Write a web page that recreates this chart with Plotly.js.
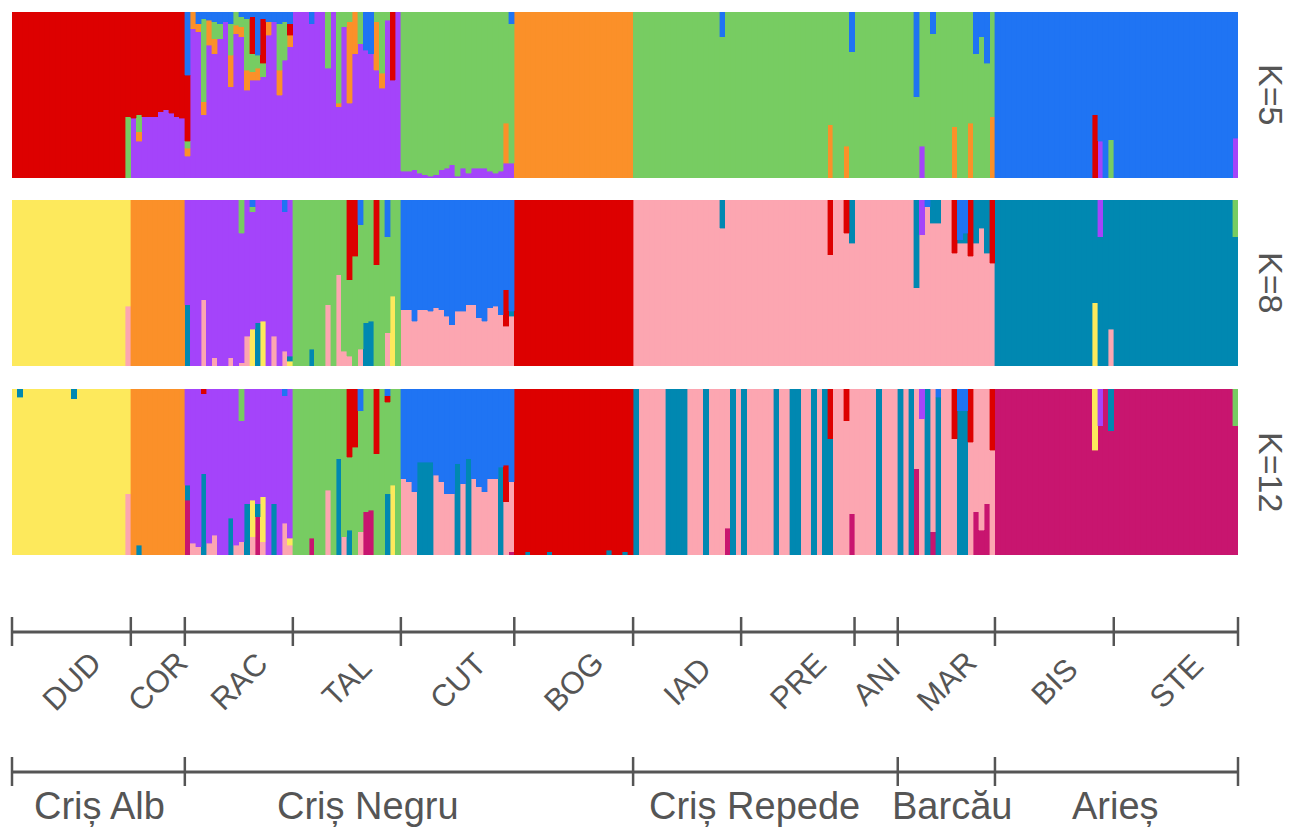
<!DOCTYPE html>
<html><head><meta charset="utf-8">
<script src="https://cdn.plot.ly/plotly-3.0.1.min.js"></script>
<style>html,body{margin:0;padding:0;background:#fff;}#chart{width:1304px;height:831px;}</style>
</head><body><div id="chart"></div>
<script>
// ---------------- DATA ----------------
const populations = ['DUD','COR','RAC','TAL','CUT','BOG','IAD','PRE','ANI','MAR','BIS','STE'];
const popSizes    = [22, 10, 20, 20, 21, 22, 20, 21, 8, 18, 22, 23];
const rivers      = ['Criș Alb','Criș Negru','Criș Repede','Barcău','Arieș'];
const riverPopCounts = [2, 4, 3, 1, 2];
const panelLabels = ['K=5','K=8','K=12'];

// cluster colour keys
const clusterColors = {P:'#a444fa', O:'#fb9029', G:'#77cc62', R:'#dd0000', B:'#1f74f3',
                       Y:'#fde95c', K:'#fca6b1', T:'#0088b1', M:'#c8156f'};
// stacking order (bottom -> top)
const order5  = ['P','O','G','R','B'];
const order8  = ['K','Y','T','O','P','G','R','B'];
const order12 = ['M','K','Y','T','O','P','G','R','B'];

// main cluster of each population
const base5  = ['R','R','P','P','G','O','G','G','G','G','B','B'];
const base8  = ['Y','O','P','G','B','R','K','K','K','K','T','T'];
const base12 = ['Y','O','P','G','B','R','K','K','K','K','M','M'];

// admixed individuals: [individual index, cluster, membership]
const admix5 = [
 [21,'G',.37],
 [22,'P',.36],[23,'P',.22],[23,'O',.06],[23,'G',.10],[24,'P',.37],[25,'P',.37],[26,'P',.37],
 [27,'P',.40],[28,'P',.41],[29,'P',.39],[30,'P',.37],[31,'P',.36],
 [32,'B',.38],[32,'R',.40],[32,'G',.04],[32,'O',.05],
 [33,'O',.10],[34,'B',.07],[34,'O',.05],[35,'B',.04],[35,'G',.50],[35,'O',.08],
 [36,'B',.05],[36,'O',.15],[37,'B',.06],[37,'G',.10],[37,'O',.09],[38,'B',.07],[38,'G',.09],
 [39,'B',.06],[40,'B',.07],[40,'G',.19],[40,'O',.19],[41,'O',.05],[41,'G',.08],
 [42,'B',.03],[42,'G',.06],[42,'O',.06],[43,'B',.04],[43,'G',.31],[43,'O',.12],
 [44,'B',.03],[44,'R',.22],[44,'G',.11],[44,'O',.05],[45,'B',.26],[45,'G',.08],[45,'O',.07],
 [46,'B',.04],[46,'R',.27],[46,'G',.08],[47,'B',.06],[47,'O',.08],[48,'B',.06],
 [49,'B',.07],[49,'G',.28],[49,'O',.15],[50,'B',.06],[50,'G',.23],[51,'B',.07],[51,'R',.07],[51,'O',.07],
 [55,'B',.07],[58,'G',.34],[60,'G',.55],[60,'O',.02],[61,'G',.09],[62,'O',.49],[62,'G',.06],
 [63,'O',.25],[64,'G',.19],[65,'B',.23],[66,'B',.25],[67,'G',.06],[67,'O',.29],[68,'G',.37],[68,'O',.09],
 [69,'G',.05],[70,'R',.41],
 [72,'P',.04],[73,'P',.04],[74,'P',.05],[75,'P',.03],[76,'P',.02],[77,'P',.01],[78,'P',.02],
 [79,'P',.05],[80,'P',.06],[81,'P',.08],[82,'P',.01],[83,'P',.06],[84,'P',.03],[85,'P',.06],
 [86,'P',.06],[87,'P',.06],[88,'P',.04],[89,'P',.03],[90,'P',.04],[91,'O',.24],[91,'P',.09],
 [92,'B',.07],[92,'P',.09],
 [131,'B',.15],
 [151,'O',.32],[154,'O',.19],[155,'B',.24],[167,'B',.51],[168,'P',.19],[170,'B',.13],
 [174,'O',.31],[177,'O',.33],[178,'B',.25],[179,'B',.15],[180,'B',.31],[181,'O',.37],
 [200,'R',.38],[201,'P',.22],[203,'G',.23],[226,'P',.24]
];
const admix8 = [
 [21,'K',.36],
 [32,'T',.37],[35,'K',.40],[37,'K',.05],[40,'K',.05],[42,'G',.20],[42,'K',.02],[43,'K',.18],
 [44,'B',.04],[44,'G',.03],[44,'Y',.22],[45,'T',.26],[46,'Y',.27],[48,'K',.18],[50,'K',.09],[50,'B',.07],
 [51,'T',.03],[51,'Y',.03],
 [55,'T',.10],[58,'K',.37],[60,'K',.55],[61,'K',.09],[62,'R',.48],[62,'K',.06],[63,'R',.34],
 [64,'B',.15],[64,'K',.10],[65,'T',.26],[66,'T',.27],[67,'R',.39],[69,'B',.22],[69,'K',.20],[70,'Y',.42],
 [72,'K',.34],[73,'K',.34],[74,'K',.27],[75,'K',.34],[76,'K',.34],[77,'K',.33],[78,'K',.35],
 [79,'K',.34],[80,'K',.30],[81,'K',.25],[82,'K',.33],[83,'K',.33],[84,'K',.37],[85,'K',.37],
 [86,'K',.29],[87,'K',.27],[88,'K',.35],[89,'K',.36],[90,'K',.31],[91,'R',.22],[91,'K',.24],
 [92,'K',.30],[92,'T',.03],
 [131,'T',.17],
 [151,'R',.33],[154,'R',.20],[155,'T',.26],[167,'T',.53],[168,'P',.21],[169,'B',.04],
 [170,'T',.14],[171,'T',.14],[174,'R',.32],[175,'B',.24],[175,'T',.02],[176,'B',.20],[176,'T',.06],
 [177,'R',.34],[178,'T',.26],[179,'T',.17],[180,'T',.32],[181,'R',.38],
 [200,'Y',.38],[201,'P',.22],[203,'K',.22],[226,'G',.22]
];
const admix12 = [
 [1,'T',.05],[11,'T',.06],[21,'K',.37],
 [23,'T',.06],
 [32,'M',.33],[32,'T',.09],[33,'K',.07],[34,'K',.05],[35,'T',.49],[35,'R',.03],[36,'K',.07],
 [37,'K',.12],[40,'T',.22],[41,'K',.06],[42,'G',.19],[42,'K',.08],[43,'T',.31],[44,'Y',.22],[44,'K',.11],
 [45,'M',.23],[45,'T',.08],[46,'Y',.27],[46,'K',.08],[48,'T',.31],[50,'K',.19],[50,'B',.04],
 [51,'Y',.04],[51,'K',.06],
 [55,'M',.10],[58,'K',.39],[60,'T',.58],[61,'K',.11],[62,'T',.15],[62,'R',.41],[63,'R',.35],
 [64,'K',.14],[64,'B',.13],[65,'M',.26],[66,'M',.27],[67,'R',.39],[69,'T',.37],[69,'R',.04],[69,'B',.04],
 [70,'Y',.42],
 [72,'K',.46],[73,'K',.44],[74,'K',.38],[75,'T',.56],[76,'T',.56],[77,'T',.56],[78,'K',.48],
 [79,'K',.44],[80,'K',.37],[81,'K',.37],[82,'T',.55],[83,'K',.43],[84,'T',.58],[85,'K',.46],
 [86,'K',.41],[87,'K',.38],[88,'K',.46],[89,'K',.46],[90,'T',.53],[91,'R',.22],[91,'K',.32],
 [92,'K',.42],[92,'M',.02],
 [95,'T',.02],[99,'T',.02],[110,'T',.03],[113,'T',.02],
 [115,'T',1],[121,'T',1],[122,'T',1],[123,'T',1],[124,'T',1],[128,'T',1],[132,'M',.16],[133,'T',1],
 [135,'T',1],[141,'T',1],[144,'T',1],[145,'T',1],[148,'T',1],[150,'T',1],[151,'T',.70],[151,'R',.30],
 [154,'R',.19],[155,'M',.25],
 [160,'T',1],
 [164,'T',1],[166,'T',1],[167,'M',.52],[168,'P',.18],[169,'T',1],[170,'M',.14],[171,'T',.95],[171,'B',.05],
 [174,'R',.30],[175,'T',.87],[175,'B',.13],[176,'T',.87],[176,'B',.13],[177,'R',.32],
 [178,'M',.26],[179,'M',.15],[180,'M',.31],[181,'R',.37],
 [200,'Y',.37],[201,'P',.22],[203,'T',.25],[226,'G',.22]
];

// ---------------- BUILD ----------------
const N = popSizes.reduce((a,b)=>a+b,0);
const popOf = [];
popSizes.forEach((n,p)=>{ for(let i=0;i<n;i++) popOf.push(p); });
const idx = Array.from({length:N},(_,i)=>i);

function buildQ(base, admix, order){
  const q = {}; order.forEach(c=>q[c]=new Array(N).fill(0));
  const minor = new Array(N).fill(0);
  admix.forEach(([i,c,v])=>{ q[c][i]+=v; minor[i]+=v; });
  for(let i=0;i<N;i++){ q[base[popOf[i]]][i] += Math.max(0, 1-minor[i]); }
  // empty segments are not drawn at all
  order.forEach(c=>{ q[c] = q[c].map(v => v > 0.0001 ? v : null); });
  return q;
}
const panels = [
  {q:buildQ(base5,admix5,order5),  order:order5,  xa:'x',  ya:'y'},
  {q:buildQ(base8,admix8,order8),  order:order8,  xa:'x2', ya:'y2'},
  {q:buildQ(base12,admix12,order12),order:order12,xa:'x3', ya:'y3'}
];
const traces = [];
panels.forEach(p=>{
  p.order.forEach(c=>{
    traces.push({type:'bar', x:idx, y:p.q[c], xaxis:p.xa, yaxis:p.ya, width:1,
      marker:{color:clusterColors[c], line:{color:clusterColors[c], width:0.4}},
      hoverinfo:'skip', showlegend:false});
  });
});

// ---------------- LAYOUT ----------------
const W=1304, H=831, plotL=12, plotR=1238, plotT=12, plotB=555;
const fy = py => (plotB-py)/(plotB-plotT);
const fx = px => (px-plotL)/(plotR-plotL);
const textColor = '#555555';
const axColor = '#555555';
const font = 'Liberation Sans, Arial, sans-serif';

const xbase = {range:[-0.5,N-0.5], visible:false, fixedrange:true};
const ybase = {range:[0,1], visible:false, fixedrange:true};
const domains = [[fy(178),fy(12)],[fy(366),fy(200)],[fy(555),fy(389)]];

const shapes = [];
const annotations = [];
function axisRow(py, counts){
  shapes.push({type:'line', xref:'paper', yref:'paper', x0:0, x1:1, y0:fy(py), y1:fy(py), line:{color:axColor, width:3}});
  let cum = 0; const bounds=[0];
  counts.forEach(n=>{cum+=n; bounds.push(cum);});
  bounds.forEach(b=>shapes.push({type:'line', xref:'paper', yref:'paper', x0:b/N, x1:b/N,
    y0:fy(py-15), y1:fy(py+14), line:{color:axColor, width:2.5}}));
  return bounds;
}
const popBounds = axisRow(632, popSizes);
populations.forEach((p,i)=>{
  annotations.push({text:p, xref:'paper', yref:'paper', x:(popBounds[i]+popBounds[i+1])/2/N, y:fy(681),
    xanchor:'center', yanchor:'middle', textangle:-45, showarrow:false,
    font:{family:font, size:31, color:textColor}});
});
const riverSizes = []; { let k=0; riverPopCounts.forEach(c=>{ let s=0; for(let j=0;j<c;j++) s+=popSizes[k++]; riverSizes.push(s); }); }
axisRow(772, riverSizes);
const riverLabelPx = [100, 368, 754, 952, 1115];
rivers.forEach((r,i)=>{
  annotations.push({text:r, xref:'paper', yref:'paper', x:fx(riverLabelPx[i]), y:fy(806),
    xanchor:'center', yanchor:'middle', showarrow:false,
    font:{family:font, size:38, color:textColor}});
});
panelLabels.forEach((t,i)=>{
  annotations.push({text:t, xref:'paper', yref:'paper', x:fx(1271), y:(domains[i][0]+domains[i][1])/2,
    xanchor:'center', yanchor:'middle', textangle:90, showarrow:false,
    font:{family:font, size:34, color:textColor}});
});

const layout = {
  width:W, height:H, margin:{l:plotL, r:W-plotR, t:plotT, b:H-plotB, pad:0},
  paper_bgcolor:'#ffffff', plot_bgcolor:'#ffffff',
  barmode:'stack', bargap:0, showlegend:false,
  xaxis:Object.assign({anchor:'y'},xbase),
  xaxis2:Object.assign({anchor:'y2'},xbase),
  xaxis3:Object.assign({anchor:'y3'},xbase),
  yaxis:Object.assign({domain:domains[0], anchor:'x'},ybase),
  yaxis2:Object.assign({domain:domains[1], anchor:'x2'},ybase),
  yaxis3:Object.assign({domain:domains[2], anchor:'x3'},ybase),
  shapes:shapes, annotations:annotations
};
Plotly.newPlot('chart', traces, layout, {staticPlot:true, displayModeBar:false});
</script>
</body></html>
